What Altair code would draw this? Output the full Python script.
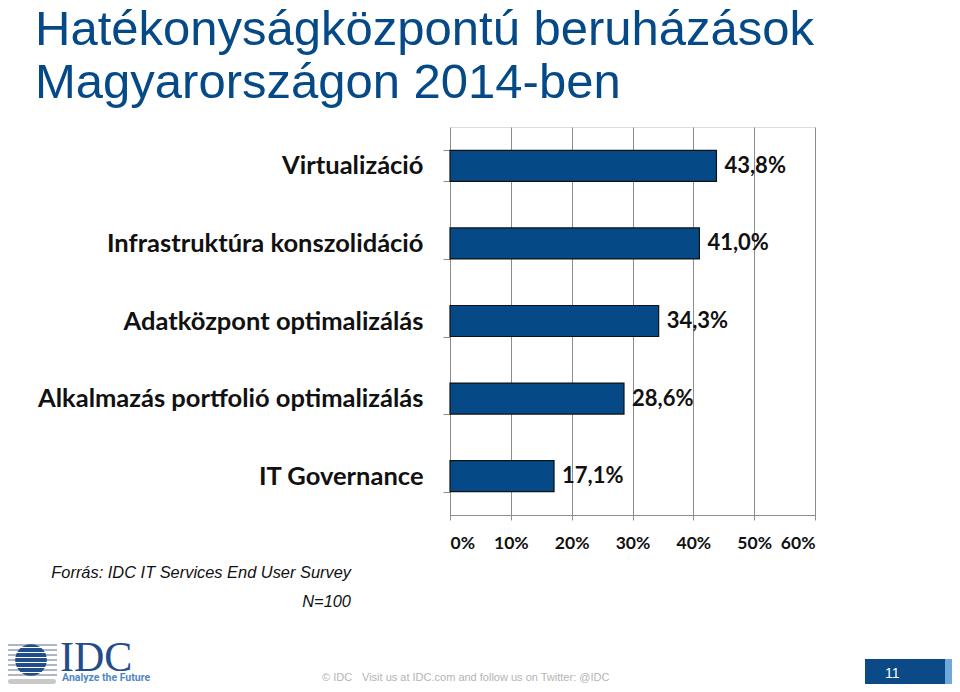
import altair as alt
import pandas as pd

categories = [
    "Virtualizáció",
    "Infrastruktúra konszolidáció",
    "Adatközpont optimalizálás",
    "Alkalmazás portfolió optimalizálás",
    "IT Governance",
]
values = [43.8, 41.0, 34.3, 28.6, 17.1]
value_labels = ["43,8%", "41,0%", "34,3%", "28,6%", "17,1%"]
x_ticks = [0, 10, 20, 30, 40, 50, 60]

title_lines = ["Hatékonyságközpontú beruházások", "Magyarországon 2014-ben"]
source_line = "Forrás: IDC IT Services End User Survey"
n_line = "N=100"
footer_copy = "© IDC"
footer_line = "Visit us at IDC.com and follow us on Twitter: @IDC"
page_no = "11"

df = pd.DataFrame({"cat": categories, "val": values, "lab": value_labels})

BLUE = "#054a86"
GRID = "#8c8c8c"
W, H = 365, 388

y_enc = alt.Y(
    "cat:N",
    sort=categories,
    scale=alt.Scale(paddingInner=0.6, paddingOuter=0.3),
    axis=alt.Axis(
        title=None,
        labelFont="Lato",
        labelFontWeight="bold",
        labelFontSize=25.5,
        labelColor="#111111",
        labelPadding=20,
        tickBand="extent",
        tickSize=7,
        tickColor=GRID,
        domain=False,
        grid=False,
        labelLimit=500,
    ),
)
x_enc = alt.X(
    "val:Q",
    scale=alt.Scale(domain=[0, 60], nice=False),
    axis=alt.Axis(
        title=None,
        values=x_ticks,
        labelExpr="datum.value + '%'",
        labelFont="Lato",
        labelFontWeight="bold",
        labelFontSize=17.5,
        labelColor="#111111",
        labelPadding=14,
        grid=True,
        gridColor=GRID,
        gridWidth=1,
        domainColor=GRID,
        tickColor=GRID,
        tickSize=5,
    ),
)

bars = alt.Chart(df).mark_bar(color=BLUE, stroke="#111111", strokeWidth=1.2).encode(
    x=x_enc, y=y_enc
)
labels = alt.Chart(df).mark_text(
    align="left", baseline="middle", dx=8, font="Lato", fontWeight="bold",
    fontSize=22, color="#111111"
).encode(x="val:Q", y=alt.Y("cat:N", sort=categories), text="lab:N")

OX, OY = 450 - 8, 127 - 8  # plot origin offset inside the svg


def txt(text, x, y, size, color, align="left", font="Liberation Sans",
        weight="normal", style="normal", baseline="alphabetic"):
    return alt.Chart(alt.Data(values=[{"t": text}])).mark_text(
        align=align, baseline=baseline, fontSize=size, color=color, font=font,
        fontWeight=weight, fontStyle=style,
    ).encode(x=alt.value(x - 8 - OX), y=alt.value(y - 8 - OY), text="t:N")


def rect(x1, x2, y1, y2, color, radius=0):
    return alt.Chart(alt.Data(values=[{}])).mark_rect(color=color, cornerRadius=radius).encode(
        x=alt.value(x1 - 8 - OX), x2=alt.value(x2 - 8 - OX),
        y=alt.value(y1 - 8 - OY), y2=alt.value(y2 - 8 - OY))


def hline(x1, x2, y, color, w=1.0):
    return alt.Chart(alt.Data(values=[{}])).mark_rule(color=color, strokeWidth=w).encode(
        x=alt.value(x1 - 8 - OX), x2=alt.value(x2 - 8 - OX), y=alt.value(y - 8 - OY))


ann = [
    txt(title_lines[0], 35, 45, 49, BLUE),
    txt(title_lines[1], 35, 98, 49, BLUE),
    txt(source_line, 351, 578, 16.4, "#111111", align="right", style="italic"),
    txt(n_line, 351, 607, 16.4, "#111111", align="right", style="italic"),
    txt(footer_copy, 322, 681, 11, "#b4b4b4"),
    txt(footer_line, 362, 681, 11, "#b4b4b4"),
    txt("IDC", 60, 671, 42, "#1f4e8a", font="Liberation Serif"),
    txt("Analyze the Future", 62, 681, 10.5, "#4f88c6", font="Roboto", weight="bold"),
]

page_boxes = [
    rect(865, 945, 659, 684, "#0b4a87"),
    rect(945, 960, 659, 684, "#6fa8dc"),
    txt(page_no, 885, 678, 14, "white"),
]

# IDC globe approximation
globe = [rect(8, 56, 679, 684, "#c8c8c8", radius=3)]
stripe_y = [645, 650, 655, 660, 665, 670, 675]
for yy in stripe_y:
    globe.append(hline(5, 57, yy, "#5a6f8c", 1.2))
globe.append(alt.Chart(alt.Data(values=[{}])).mark_point(
    shape="circle", filled=True, color="#1f4e8a", size=1000, opacity=1
).encode(x=alt.value(31 - 8 - OX), y=alt.value(660 - 8 - OY)))
for yy in stripe_y:
    globe.append(hline(12, 50, yy + 2.5, "white", 1.0))

chart = alt.layer(bars, labels, *ann, *page_boxes, *globe).properties(
    width=W, height=H,
    autosize=alt.AutoSizeParams(type="none"),
    padding={"left": OX, "top": OY, "right": 960 - 16 - OX - W, "bottom": 692 - 16 - OY - H},
).configure_view(stroke=None).configure(background="white")

chart.save("out.html", embed_options={"renderer": "svg", "actions": False})
